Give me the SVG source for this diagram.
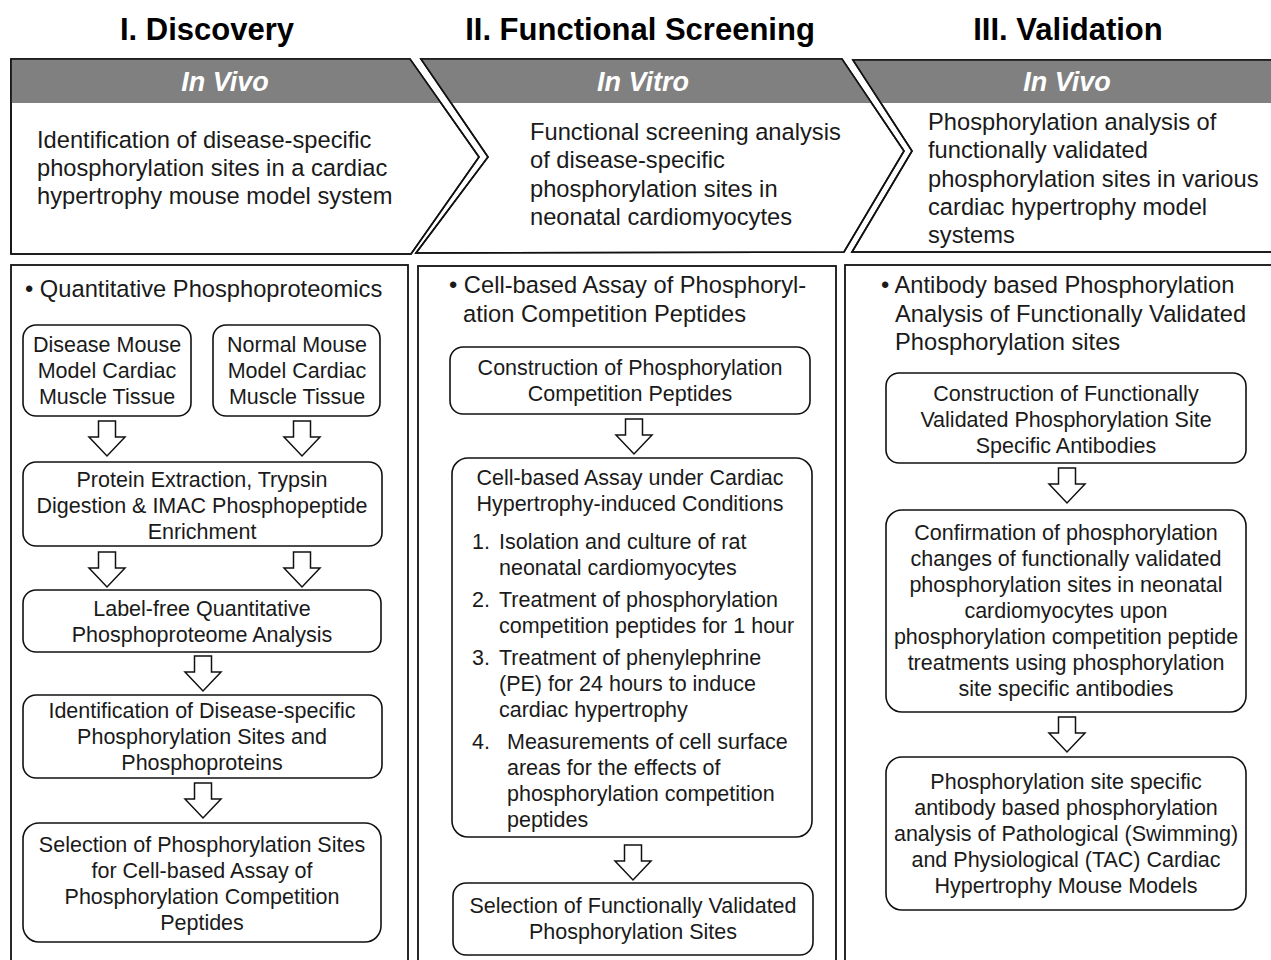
<svg xmlns="http://www.w3.org/2000/svg" xmlns:xlink="http://www.w3.org/1999/xlink" width="1271" height="960" viewBox="0 0 1271 960">
<style>
text{font-family:"Liberation Sans",Arial,sans-serif;fill:#1a1a1a}
.title{font-size:31px;font-weight:bold;text-anchor:middle;fill:#000}
.band{font-size:27px;font-weight:bold;font-style:italic;fill:#fff;text-anchor:middle}
.chev{fill:#fff;stroke:#111;stroke-width:1.6}
.gray{fill:#808080}
.ctext{font-size:23.7px}
.panel{fill:#fff;stroke:#111;stroke-width:1.8}
.head{font-size:23.7px}
.box{fill:#fff;stroke:#111;stroke-width:1.6}
.bt{font-size:21.5px;text-anchor:middle}
.lt{font-size:21.5px}
.arr{fill:#fff;stroke:#111;stroke-width:1.5;stroke-linejoin:miter}
</style>
<defs>
<path id="arr" d="M-8.5,0 h17 v16 h9.5 L0,35 L-18,16 h9.5 z"/>
<clipPath id="cp1"><polygon points="11,59 410,59 479,157 411,254 11,254"/></clipPath>
<clipPath id="cp2"><polygon points="421,59 842,59 904,151 844,252 416,253 488,157"/></clipPath>
<clipPath id="cp3"><polygon points="853,60 1290,60 1290,252 852,252 912,151"/></clipPath>
</defs>
<rect width="1271" height="960" fill="#fff"/>

<g id="titles">
<text class="title" x="207" y="40">I. Discovery</text>
<text class="title" x="640" y="40">II. Functional Screening</text>
<text class="title" x="1068" y="40">III. Validation</text>
</g>

<g id="chevron1">
<polygon class="chev" points="11,59 410,59 479,157 411,254 11,254"/>
<rect class="gray" x="0" y="59" width="500" height="44" clip-path="url(#cp1)"/>
<polygon points="11,59 410,59 479,157 411,254 11,254" fill="none" stroke="#111" stroke-width="1.6"/>
<text class="band" x="225" y="91">In Vivo</text>
<text class="ctext" x="37" y="148">Identification of disease-specific</text>
<text class="ctext" x="37" y="176">phosphorylation sites in a cardiac</text>
<text class="ctext" x="37" y="204">hypertrophy mouse model system</text>
</g>

<g id="chevron2">
<polygon class="chev" points="421,59 842,59 904,151 844,252 416,253 488,157"/>
<rect class="gray" x="400" y="59" width="520" height="44" clip-path="url(#cp2)"/>
<polygon points="421,59 842,59 904,151 844,252 416,253 488,157" fill="none" stroke="#111" stroke-width="1.6"/>
<text class="band" x="643" y="91">In Vitro</text>
<text class="ctext" x="530" y="140">Functional screening analysis</text>
<text class="ctext" x="530" y="168">of disease-specific</text>
<text class="ctext" x="530" y="197">phosphorylation sites in</text>
<text class="ctext" x="530" y="225">neonatal cardiomyocytes</text>
</g>

<g id="chevron3">
<polygon class="chev" points="853,60 1290,60 1290,252 852,252 912,151"/>
<rect class="gray" x="840" y="60" width="460" height="43" clip-path="url(#cp3)"/>
<polygon points="853,60 1290,60 1290,252 852,252 912,151" fill="none" stroke="#111" stroke-width="1.6"/>
<text class="band" x="1067" y="91">In Vivo</text>
<text class="ctext" x="928" y="130">Phosphorylation analysis of</text>
<text class="ctext" x="928" y="158">functionally validated</text>
<text class="ctext" x="928" y="187">phosphorylation sites in various</text>
<text class="ctext" x="928" y="215">cardiac hypertrophy model</text>
<text class="ctext" x="928" y="243">systems</text>
</g>

<g id="panel1">
<rect class="panel" x="11" y="265" width="397" height="720"/>
<text class="head" x="25" y="297">• Quantitative Phosphoproteomics</text>
</g>
<g id="panel2">
<rect class="panel" x="418" y="266" width="418" height="720"/>
<text class="head" x="449" y="293">• Cell-based Assay of Phosphoryl-</text>
<text class="head" x="463" y="322">ation Competition Peptides</text>
</g>
<g id="panel3">
<rect class="panel" x="845" y="265" width="450" height="720"/>
<text class="head" x="881" y="293">• Antibody based Phosphorylation</text>
<text class="head" x="895" y="322">Analysis of Functionally Validated</text>
<text class="head" x="895" y="350">Phosphorylation sites</text>
</g>

<g id="n-disease">
<rect class="box" x="23" y="325" width="168" height="91" rx="13"/>
<text class="bt" x="107" y="352">Disease Mouse</text>
<text class="bt" x="107" y="378">Model Cardiac</text>
<text class="bt" x="107" y="404">Muscle Tissue</text>
</g>
<g id="n-normal">
<rect class="box" x="213" y="325" width="167" height="91" rx="13"/>
<text class="bt" x="297" y="352">Normal Mouse</text>
<text class="bt" x="297" y="378">Model Cardiac</text>
<text class="bt" x="297" y="404">Muscle Tissue</text>
</g>
<g id="n-protein">
<rect class="box" x="23" y="462" width="359" height="84" rx="13"/>
<text class="bt" x="202" y="487">Protein Extraction, Trypsin</text>
<text class="bt" x="202" y="513">Digestion &amp; IMAC Phosphopeptide</text>
<text class="bt" x="202" y="539">Enrichment</text>
</g>
<g id="n-labelfree">
<rect class="box" x="23" y="590" width="358" height="62" rx="13"/>
<text class="bt" x="202" y="616">Label-free Quantitative</text>
<text class="bt" x="202" y="642">Phosphoproteome Analysis</text>
</g>
<g id="n-ident">
<rect class="box" x="23" y="695" width="359" height="83" rx="13"/>
<text class="bt" x="202" y="718">Identification of Disease-specific</text>
<text class="bt" x="202" y="744">Phosphorylation Sites and</text>
<text class="bt" x="202" y="770">Phosphoproteins</text>
</g>
<g id="n-select1">
<rect class="box" x="23" y="823" width="358" height="119" rx="16"/>
<text class="bt" x="202" y="852">Selection of Phosphorylation Sites</text>
<text class="bt" x="202" y="878">for Cell-based Assay of</text>
<text class="bt" x="202" y="904">Phosphorylation Competition</text>
<text class="bt" x="202" y="930">Peptides</text>
</g>

<g id="n-construct2">
<rect class="box" x="450" y="347" width="360" height="67" rx="13"/>
<text class="bt" x="630" y="375">Construction of Phosphorylation</text>
<text class="bt" x="630" y="401">Competition Peptides</text>
</g>
<g id="n-assay">
<rect class="box" x="452" y="458" width="360" height="379" rx="16"/>
<text class="bt" x="630" y="485">Cell-based Assay under Cardiac</text>
<text class="bt" x="630" y="511">Hypertrophy-induced Conditions</text>
<text class="lt" x="472" y="549">1.</text>
<text class="lt" x="499" y="549">Isolation and culture of rat</text>
<text class="lt" x="499" y="575">neonatal cardiomyocytes</text>
<text class="lt" x="472" y="607">2.</text>
<text class="lt" x="499" y="607">Treatment of phosphorylation</text>
<text class="lt" x="499" y="633">competition peptides for 1 hour</text>
<text class="lt" x="472" y="665">3.</text>
<text class="lt" x="499" y="665">Treatment of phenylephrine</text>
<text class="lt" x="499" y="691">(PE) for 24 hours to induce</text>
<text class="lt" x="499" y="717">cardiac hypertrophy</text>
<text class="lt" x="472" y="749">4.</text>
<text class="lt" x="507" y="749">Measurements of cell surface</text>
<text class="lt" x="507" y="775">areas for the effects of</text>
<text class="lt" x="507" y="801">phosphorylation competition</text>
<text class="lt" x="507" y="827">peptides</text>
</g>
<g id="n-select2">
<rect class="box" x="453" y="883" width="360" height="72" rx="13"/>
<text class="bt" x="633" y="913">Selection of Functionally Validated</text>
<text class="bt" x="633" y="939">Phosphorylation Sites</text>
</g>

<g id="n-construct3">
<rect class="box" x="886" y="373" width="360" height="90" rx="13"/>
<text class="bt" x="1066" y="401">Construction of Functionally</text>
<text class="bt" x="1066" y="427">Validated Phosphorylation Site</text>
<text class="bt" x="1066" y="453">Specific Antibodies</text>
</g>
<g id="n-confirm">
<rect class="box" x="886" y="510" width="360" height="202" rx="16"/>
<text class="bt" x="1066" y="540">Confirmation of phosphorylation</text>
<text class="bt" x="1066" y="566">changes of functionally validated</text>
<text class="bt" x="1066" y="592">phosphorylation sites in neonatal</text>
<text class="bt" x="1066" y="618">cardiomyocytes upon</text>
<text class="bt" x="1066" y="644">phosphorylation competition peptide</text>
<text class="bt" x="1066" y="670">treatments using phosphorylation</text>
<text class="bt" x="1066" y="696">site specific antibodies</text>
</g>
<g id="n-analysis">
<rect class="box" x="886" y="757" width="360" height="153" rx="16"/>
<text class="bt" x="1066" y="789">Phosphorylation site specific</text>
<text class="bt" x="1066" y="815">antibody based phosphorylation</text>
<text class="bt" x="1066" y="841">analysis of Pathological (Swimming)</text>
<text class="bt" x="1066" y="867">and Physiological (TAC) Cardiac</text>
<text class="bt" x="1066" y="893">Hypertrophy Mouse Models</text>
</g>

<g id="connectors">
<use xlink:href="#arr" class="arr" x="107" y="421"/>
<use xlink:href="#arr" class="arr" x="302" y="421"/>
<use xlink:href="#arr" class="arr" x="107" y="552"/>
<use xlink:href="#arr" class="arr" x="302" y="552"/>
<use xlink:href="#arr" class="arr" x="203" y="656"/>
<use xlink:href="#arr" class="arr" x="203" y="783"/>
<use xlink:href="#arr" class="arr" x="634" y="419"/>
<use xlink:href="#arr" class="arr" x="633" y="845"/>
<use xlink:href="#arr" class="arr" x="1067" y="468"/>
<use xlink:href="#arr" class="arr" x="1067" y="717"/>
</g>
</svg>
